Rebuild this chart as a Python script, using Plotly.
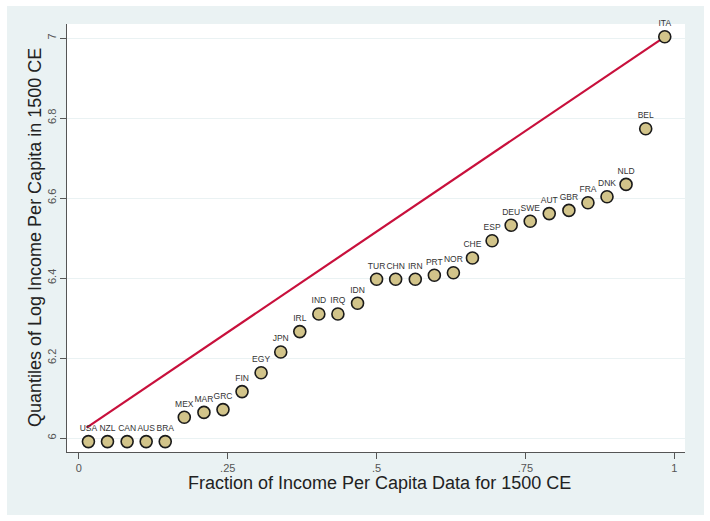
import plotly.graph_objects as go

# countries ordered by income in 1500 CE
countries = ["USA", "NZL", "CAN", "AUS", "BRA", "MEX", "MAR", "GRC", "FIN", "EGY",
             "JPN", "IRL", "IND", "IRQ", "IDN", "TUR", "CHN", "IRN", "PRT", "NOR",
             "CHE", "ESP", "DEU", "SWE", "AUT", "GBR", "FRA", "DNK", "NLD", "BEL", "ITA"]

# fraction of the data (x) and log income per capita (y)
fraction = [0.016, 0.048, 0.081, 0.113, 0.145, 0.177, 0.210, 0.242, 0.274, 0.306,
            0.339, 0.371, 0.403, 0.435, 0.468, 0.500, 0.532, 0.565, 0.597, 0.629,
            0.661, 0.694, 0.726, 0.758, 0.790, 0.823, 0.855, 0.887, 0.919, 0.952, 0.984]
log_income = [5.991, 5.991, 5.991, 5.991, 5.991, 6.052, 6.064, 6.071, 6.116, 6.163,
              6.215, 6.266, 6.310, 6.310, 6.337, 6.397, 6.397, 6.397, 6.407, 6.413,
              6.450, 6.493, 6.532, 6.542, 6.561, 6.569, 6.588, 6.603, 6.634, 6.773, 7.003]

# reference line of the quantile plot
ref_x = [0.013, 0.984]
ref_y = [6.026, 7.003]

x_ticks = [0, 0.25, 0.5, 0.75, 1]
x_labels = ["0", ".25", ".5", ".75", "1"]
y_ticks = [6, 6.2, 6.4, 6.6, 6.8, 7]
y_labels = ["6", "6.2", "6.4", "6.6", "6.8", "7"]

font = "Liberation Sans, Arial, sans-serif"
bg = "#EAF2F3"

fig = go.Figure()
fig.add_trace(go.Scatter(
    x=ref_x, y=ref_y, mode="lines",
    line=dict(color="#C8103C", width=2.2),
    hoverinfo="skip", showlegend=False
))
fig.add_trace(go.Scatter(
    x=fraction, y=log_income, mode="markers+text",
    text=countries, textposition="top center", cliponaxis=False,
    textfont=dict(family=font, size=8.5, color="#333333"),
    marker=dict(size=12, color="#D2C48A", line=dict(color="#1a1a1a", width=1.6)),
    showlegend=False
))

# white border around the light blue graph region
strips = [
    dict(x0=-0.2, x1=-0.0971, y0=-0.3, y1=1.2),
    dict(x0=1.0307, x1=1.2, y0=-0.3, y1=1.2),
    dict(x0=-0.2, x1=1.2, y0=1.042, y1=1.2),
    dict(x0=-0.2, x1=1.2, y0=-0.3, y1=-0.147),
]
for s in strips:
    fig.add_shape(type="rect", xref="paper", yref="paper", layer="below",
                  fillcolor="white", line_width=0, **s)

# axis titles placed as annotations
fig.add_annotation(text="Fraction of Income Per Capita Data for 1500 CE",
                   xref="paper", yref="paper", x=0.505, y=-0.072,
                   xanchor="center", yanchor="middle", showarrow=False,
                   font=dict(size=18, color="#222222"))
fig.add_annotation(text="Quantiles of Log Income Per Capita in 1500 CE",
                   xref="paper", yref="paper", x=-0.052, y=0.502, textangle=-90,
                   xanchor="center", yanchor="middle", showarrow=False,
                   font=dict(size=18, color="#222222"))

fig.update_layout(
    width=710, height=521,
    margin=dict(l=67, r=25, t=24, b=69),
    paper_bgcolor=bg, plot_bgcolor="white",
    font=dict(family=font, color="#333333"),
    xaxis=dict(
        range=[-0.020, 1.018], tickvals=x_ticks, ticktext=x_labels,
        showgrid=False, zeroline=False, automargin=False,
        showline=True, linecolor="#555555", linewidth=1.2,
        ticks="outside", ticklen=6, tickcolor="#555555",
        tickfont=dict(size=11, color="#555555"),
    ),
    yaxis=dict(
        range=[5.965, 7.035], tickvals=y_ticks, ticktext=y_labels,
        tickangle=-90, automargin=False,
        showgrid=True, gridcolor=bg, gridwidth=1.2, zeroline=False,
        showline=True, linecolor="#555555", linewidth=1.2,
        ticks="outside", ticklen=6, tickcolor="#555555",
        tickfont=dict(size=11, color="#555555"),
    ),
)

# drop the default page margin so the figure sits at the window's corner
fig.write_html("out.html", config={"displayModeBar": False},
               post_script="document.body.style.margin='0';")
